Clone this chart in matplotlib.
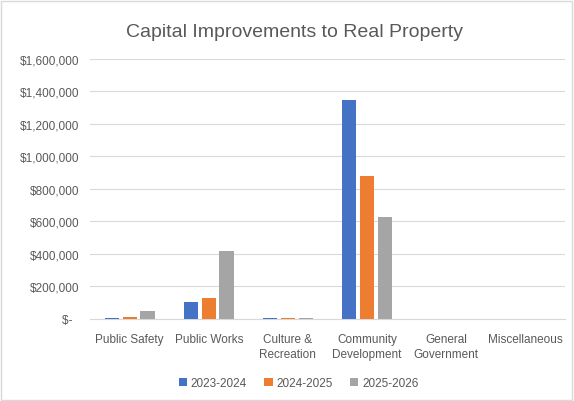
import matplotlib
matplotlib.use("Agg")
import matplotlib.pyplot as plt
import numpy as np
from matplotlib.ticker import FuncFormatter

categories = ["Public Safety", "Public Works", "Culture &\nRecreation", "Community\nDevelopment", "General\nGovernment", "Miscellaneous"]
series_names = ["2023-2024", "2024-2025", "2025-2026"]
fy2324 = [7000, 103000, 6000, 1350000, 0, 0]
fy2425 = [12000, 129000, 5000, 882000, 0, 0]
fy2526 = [49000, 418000, 5000, 626000, 0, 0]
colors = ["#4472C4", "#ED7D31", "#A5A5A5"]

plt.rcParams['font.family'] = ['Liberation Sans', 'DejaVu Sans']
fig = plt.figure(figsize=(5.74, 4.02), dpi=100)
ax = fig.add_axes([0.157, 0.204, 0.827, 0.647])

x = np.arange(len(categories))
w = 0.18
gap = 0.045
for i, (vals, name, c) in enumerate(zip([fy2324, fy2425, fy2526], series_names, colors)):
    ax.bar(x + (i - 1) * (w + gap), vals, width=w, color=c, label=name, zorder=3)

ax.set_xlim(-0.5, len(categories) - 0.5)
ax.set_ylim(0, 1600000)
ax.set_yticks(np.arange(0, 1600001, 200000))
ax.yaxis.set_major_formatter(FuncFormatter(lambda v, p: "$-  " if v == 0 else "${:,.0f}".format(v)))
ax.grid(axis='y', color='#D9D9D9', linewidth=0.8, zorder=0)
for s in ['top', 'right', 'left']:
    ax.spines[s].set_visible(False)
ax.spines['bottom'].set_color('#D9D9D9')
ax.tick_params(axis='both', length=0, colors='#595959', labelsize=8.5)
ax.tick_params(axis='y', pad=8)
ax.tick_params(axis='x', pad=10)
ax.set_xticks(x)
ax.set_xticklabels(categories, linespacing=1.35)

fig.text(0.513, 0.92, "Capital Improvements to Real Property", ha='center', va='center', fontsize=14, color='#595959')
leg = fig.legend(loc='center', bbox_to_anchor=(0.52, 0.045), ncol=3, frameon=False, fontsize=8.5,
                 handlelength=0.7, handleheight=0.7, columnspacing=1.5, handletextpad=0.3)
for t in leg.get_texts():
    t.set_color('#595959')

fig.patches.append(plt.Rectangle((0.002, 0.003), 0.994, 0.993, transform=fig.transFigure,
                                 fill=False, edgecolor='#D9D9D9', linewidth=1))
fig.savefig("out.png", dpi=100)
